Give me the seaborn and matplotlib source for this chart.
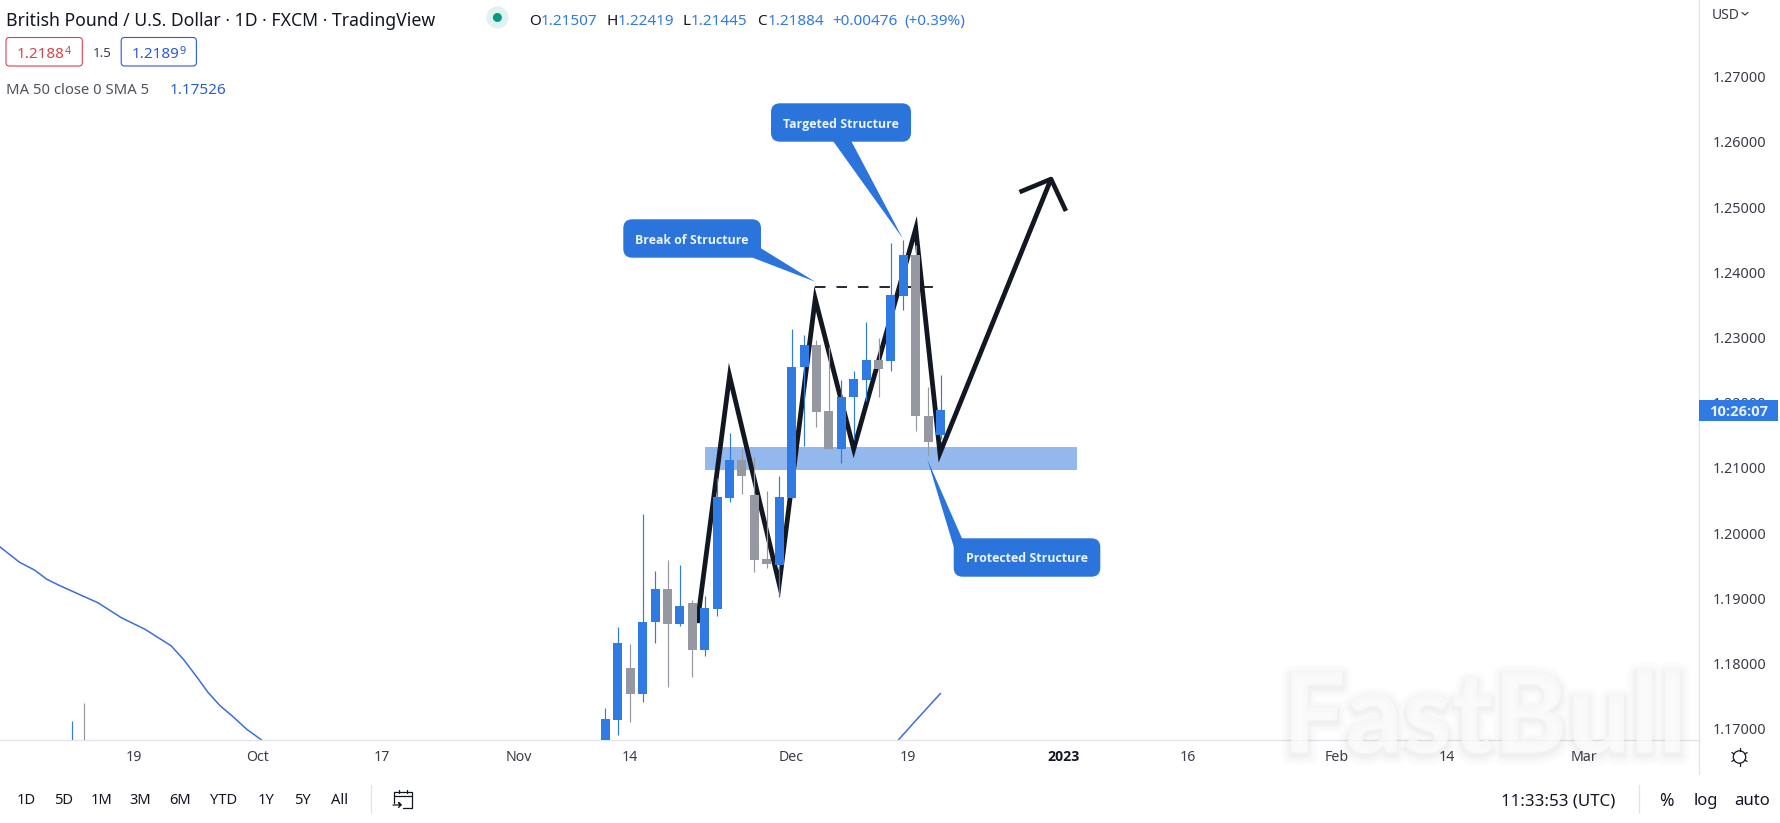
import numpy as np
import matplotlib
matplotlib.use("Agg")
import matplotlib.pyplot as plt
from matplotlib.patches import FancyBboxPatch, Polygon, Circle, Rectangle
import matplotlib.patheffects as pe
import seaborn as sns

# GBP/USD daily candles
bar_index = [-43, -42] + list(range(28))
opens = [1.1640, 1.1660, 1.1645, 1.1714, 1.1793, 1.1754, 1.1863, 1.1914, 1.1861, 1.1893, 1.1821, 1.1884,
         1.2054, 1.2112, 1.2058, 1.1960, 1.1951, 1.2054, 1.2254, 1.2288, 1.2187, 1.2129, 1.2208, 1.2235,
         1.2265, 1.2264, 1.2364, 1.2427, 1.2180, 1.21507]
closes = [1.1660, 1.1640, 1.1715, 1.1831, 1.1754, 1.1864, 1.1914, 1.1861, 1.1888, 1.1821, 1.1885, 1.2055,
          1.2112, 1.2087, 1.1959, 1.1952, 1.2055, 1.2254, 1.2288, 1.2186, 1.2129, 1.2209, 1.2236, 1.2265,
          1.2252, 1.2365, 1.2427, 1.2179, 1.2140, 1.21884]
highs = [1.1712, 1.1739, 1.1732, 1.1856, 1.1830, 1.2029, 1.1942, 1.1959, 1.1951, 1.1897, 1.1904, 1.2085,
         1.2154, 1.2129, 1.2117, 1.2065, 1.2088, 1.2313, 1.2304, 1.2296, 1.2285, 1.2235, 1.2249, 1.2323,
         1.2299, 1.2445, 1.2450, 1.2442, 1.2224, 1.22419]
lows = [1.1620, 1.1630, 1.1630, 1.1690, 1.1711, 1.1741, 1.1832, 1.1764, 1.1858, 1.1780, 1.1812, 1.1873,
        1.2047, 1.2060, 1.1941, 1.1946, 1.1902, 1.2054, 1.2134, 1.2163, 1.2129, 1.2108, 1.2143, 1.2202,
        1.2208, 1.2249, 1.2342, 1.2157, 1.2120, 1.21445]

# 50-period moving average, both visible stretches
ma_left_x = [-48.8, -47.2, -46.0, -45.0, -43.9, -42.1, -40.9, -39.0, -37.1, -35.0, -34.0, -32.9, -32.0,
             -31.05, -30.0, -28.9, -27.7]
ma_left_y = [1.19791, 1.19552, 1.19434, 1.19291, 1.19189, 1.19035, 1.18933, 1.18702, 1.18525, 1.18273,
             1.18064, 1.17788, 1.17552, 1.17353, 1.17184, 1.16991, 1.16827]
ma_right_x = [23.6, 24.8, 25.9, 27.0]
ma_right_y = [1.16827, 1.17083, 1.17313, 1.17543]

# Hand-drawn market structure path and its arrowhead
path_x = [7.4, 10.0, 14.0, 16.9, 20.0, 25.0, 26.95, 35.9]
path_y = [1.1862, 1.2241, 1.1922, 1.2359, 1.2129, 1.2467, 1.2123, 1.2543]
head_x = [33.36, 35.9, 37.1]
head_y = [1.2523, 1.2543, 1.2494]
bos_x = [16.9, 26.5]
bos_y = [1.2378, 1.2378]
zone_x = [8.0, 38.0]
zone_y = [1.2097, 1.2132]

# Axis labels
price_ticks = [1.17, 1.18, 1.19, 1.20, 1.21, 1.22, 1.23, 1.24, 1.25, 1.26, 1.27]
date_ticks = [-38, -28, -18, -7, 2, 15, 24.4, 36.9, 46.9, 58.9, 67.8, 78.8]
date_labels = ["19", "Oct", "17", "Nov", "14", "Dec", "19", "2023", "16", "Feb", "14", "Mar"]
range_labels = ["1D", "5D", "1M", "3M", "6M", "YTD", "1Y", "5Y", "All"]

BLUE = "#2f7ae3"
GREY = "#9598a1"
INK = "#131722"
LINE = "#e0e3eb"
CALLOUT = "#2a74dc"

W, H = 1780, 823
AXIS_X, AXIS_Y = 1699.3, 740.0
sns.set_theme(style="white")
plt.rcParams["font.family"] = ["Noto Sans", "DejaVu Sans"]

fig = plt.figure(figsize=(W / 100, H / 100), dpi=100, facecolor="white")
ax = fig.add_axes([0, 1 - AXIS_Y / H, AXIS_X / W, AXIS_Y / H])
ax.set_xlim(-48.78, 88.13)
ax.set_ylim(1.16827, 1.28176)


def mitred_stroke(x, y, width_px):
    """Outline of a polyline with true sharp mitres, returned in data coordinates."""
    pts = ax.transData.transform(np.column_stack([x, y]))
    seg = np.diff(pts, axis=0)
    seg /= np.linalg.norm(seg, axis=1, keepdims=True)
    nrm = np.column_stack([-seg[:, 1], seg[:, 0]])
    left, right = [pts[0] + nrm[0] * width_px / 2], [pts[0] - nrm[0] * width_px / 2]
    for i in range(1, len(pts) - 1):
        bis = nrm[i - 1] + nrm[i]
        bis /= np.linalg.norm(bis)
        offset = bis * (width_px / 2) / np.dot(bis, nrm[i])
        left.append(pts[i] + offset)
        right.append(pts[i] - offset)
    left.append(pts[-1] + nrm[-1] * width_px / 2)
    right.append(pts[-1] - nrm[-1] * width_px / 2)
    return ax.transData.inverted().transform(np.array(left + right[::-1]))


# Demand zone sits beneath everything else
ax.add_patch(Rectangle((zone_x[0], zone_y[0]), zone_x[1] - zone_x[0], zone_y[1] - zone_y[0],
                       facecolor="#93b8ee", edgecolor="none", zorder=1))

sns.lineplot(x=ma_left_x, y=ma_left_y, ax=ax, color="#3b6fd8", lw=1.1, sort=False, estimator=None, zorder=2)
sns.lineplot(x=ma_right_x, y=ma_right_y, ax=ax, color="#3b6fd8", lw=1.1, sort=False, estimator=None, zorder=2)

ax.add_patch(Polygon(mitred_stroke(path_x, path_y, 4.8), closed=True, facecolor=INK, edgecolor="none", zorder=3))
sns.lineplot(x=head_x, y=head_y, ax=ax, color=INK, lw=3.3, sort=False, estimator=None, zorder=3,
             solid_joinstyle="round", solid_capstyle="butt")
ax.plot(bos_x, bos_y, color=INK, lw=1.3, dashes=(5.8, 6.1), zorder=3)

# Candles
colors = [BLUE if c >= o else GREY for o, c in zip(opens, closes)]
ax.vlines(bar_index, lows, highs, colors=colors, lw=0.85, zorder=4)
ax.bar(bar_index, np.abs(np.array(closes) - np.array(opens)), bottom=np.minimum(opens, closes),
       width=0.725, color=colors, linewidth=0, zorder=5)

ax.yaxis.tick_right()
ax.set_yticks(price_ticks, [f"{p:.5f}" for p in price_ticks])
ax.set_xticks(date_ticks, date_labels)
ax.tick_params(axis="y", length=0, pad=9.5, labelsize=10.4, labelcolor="#3a3d46")
ax.tick_params(axis="x", length=0, pad=7, labelsize=10.2, labelcolor="#3a3d46")
for lab in ax.get_xticklabels():
    if lab.get_text() == "2023":
        lab.set_family(["Open Sans", "DejaVu Sans"])
        lab.set_fontweight("bold")
        lab.set_color(INK)
for side in ("top", "left"):
    ax.spines[side].set_visible(False)
for side in ("bottom", "right"):
    ax.spines[side].set_color(LINE)
    ax.spines[side].set_linewidth(0.9)
ax.grid(False)

# Pixel-addressed layer for the toolbar, legend and callouts
ui = fig.add_axes([0, 0, 1, 1], zorder=5)
ui.set_xlim(0, W)
ui.set_ylim(H, 0)
ui.axis("off")


def label(x, y, s, size=10, color=INK, ha="left", **kw):
    ui.text(x, y, s, fontsize=size, color=color, ha=ha, va="center_baseline", **kw)


# Watermark with a soft drop shadow
shadow = [pe.Stroke(linewidth=lw, foreground="black", alpha=a, offset=(0, -2))
          for lw, a in ((14, 0.010), (10, 0.012), (6, 0.014), (3, 0.016))]
ui.text(1485, 711, "FastBull", fontsize=80, fontweight="black", family="Lato", color="#fbfbfb", alpha=0.75,
        ha="center", va="center_baseline", path_effects=shadow + [pe.Normal()])

# Header
label(6.5, 19, "British Pound / U.S. Dollar · 1D · FXCM · TradingView", size=12.7, color=INK)
ui.add_patch(Circle((497.4, 17.5), 11, facecolor="#e0f2ef", edgecolor="none"))
ui.add_patch(Circle((497.4, 17.5), 4.5, facecolor="#089981", edgecolor="none"))
for x, s, c in [(529, "O", INK), (541, "1.21507", BLUE), (606, "H", INK), (617.5, "1.22419", BLUE),
                (682.4, "L", INK), (691, "1.21445", BLUE), (757, "C", INK), (767.5, "1.21884", BLUE),
                (832, "+0.00476", BLUE), (904, "(+0.39%)", BLUE)]:
    label(x, 19, s, size=11, color=c)

for x0, x1, edge, body, last in [(6, 82.3, "#d9434b", "1.2188", "4"), (121.2, 196.4, "#2a5cd5", "1.2189", "9")]:
    ui.add_patch(FancyBboxPatch((x0, 37.5), x1 - x0, 28.5, boxstyle="round,pad=0,rounding_size=3.5",
                                facecolor="white", edgecolor=edge, lw=0.8))
    label(x0 + 10.8, 52, body, size=11, color=edge)
    label(x0 + 58.5, 49.5, last, size=7.8, color=edge)
label(93, 52, "1.5", size=9.6, color="#3a3d46")
label(6.5, 88.3, "MA 50 close 0 SMA 5", size=10.7, color="#50535e")
label(170, 88.3, "1.17526", size=11, color="#2a5cd5")

# Price-scale furniture
label(1711.5, 13.5, "USD", size=10, color="#3a3d46")
ui.plot([1742, 1745, 1748], [12.5, 15, 12.5], color="#3a3d46", lw=0.9)
ui.add_patch(Rectangle((AXIS_X, 400), 78.7, 20.7, facecolor=BLUE, edgecolor="none"))
label(1739, 410.5, "10:26:07", size=10.6, color="#e9f1fd", ha="center", fontweight="bold",
      family=["Open Sans", "DejaVu Sans"])
ui.plot([AXIS_X, AXIS_X], [AXIS_Y, 774.3], color=LINE, lw=0.9)

# Settings glyph
ui.add_patch(Circle((1739.5, 757), 6.2, facecolor="white", edgecolor=INK, lw=0.9))
for ang in np.arange(0, 360, 60):
    dx, dy = np.cos(np.radians(ang + 30)), np.sin(np.radians(ang + 30))
    ui.plot([1739.5 + 6.2 * dx, 1739.5 + 8.8 * dx], [757 + 6.2 * dy, 757 + 8.8 * dy], color=INK, lw=0.9)

# Bottom toolbar
for x, s in zip([26.4, 63.7, 102, 140.6, 180, 224, 265.8, 302.5, 339.8], range_labels):
    label(x, 799, s, size=10.6, ha="center")
ui.plot([371.4, 371.4], [785, 813], color=LINE, lw=0.9)
ui.plot([1638.5, 1638.5], [785, 813], color=LINE, lw=0.9)

# Go-to-date glyph
ui.plot([394, 394, 412, 412, 403], [803, 792, 792, 808, 808], color=INK, lw=0.9)
ui.plot([394, 412], [796, 796], color=INK, lw=0.9)
ui.plot([399, 399], [789.5, 793], color=INK, lw=0.9)
ui.plot([407, 407], [789.5, 793], color=INK, lw=0.9)
ui.plot([393, 401, 398.5, 401, 398.5], [805, 805, 802.5, 805, 807.5], color=INK, lw=0.9)

label(1500.7, 799, "11:33:53 (UTC)", size=12.2)
label(1666.8, 799, "%", size=12.6, ha="center")
label(1705.4, 799, "log", size=12, ha="center")
label(1752, 799, "auto", size=12, ha="center")

# Callouts
for text, (x0, x1, y0, y1), tail in [
    ("Targeted Structure", (771, 911, 103.3, 141.7), [(832.3, 140), (850.7, 140), (902.7, 238.3)]),
    ("Break of Structure", (623.3, 761, 219.3, 257.7), [(761, 248.3), (752.7, 257.7), (815, 281.7)]),
    ("Protected Structure", (953.7, 1100.3, 538.3, 576.7), [(962.7, 540), (953.7, 546.7), (927.3, 459.3)]),
]:
    ui.add_patch(Polygon(tail, closed=True, facecolor=CALLOUT, edgecolor="none", zorder=6))
    ui.add_patch(FancyBboxPatch((x0 + 9, y0 + 9), x1 - x0 - 18, y1 - y0 - 18, boxstyle="round,pad=9,rounding_size=9",
                                facecolor=CALLOUT, edgecolor="none", zorder=6))
    ui.text((x0 + x1) / 2, (y0 + y1) / 2, text, fontsize=8.9, fontweight="bold", family=["Open Sans", "DejaVu Sans"],
            color="#eef4fd", ha="center", va="center_baseline", zorder=7)

fig.savefig("out.png", dpi=100, facecolor="white")
